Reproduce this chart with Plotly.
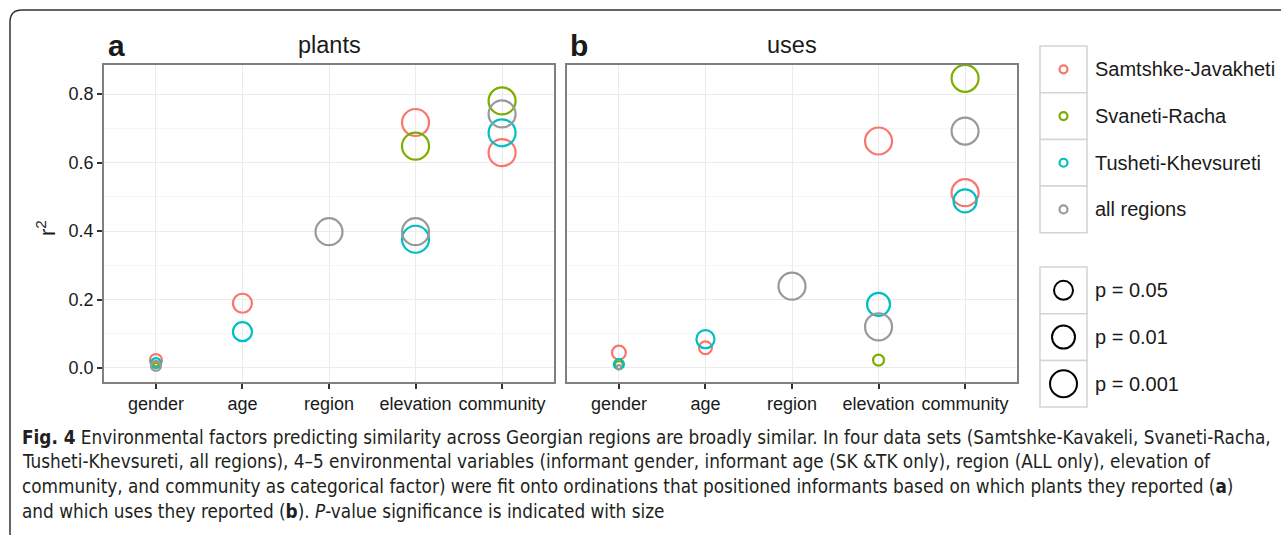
import numpy as np
import plotly.graph_objects as go

W, H = 1281, 535

categories = ["gender", "age", "region", "elevation", "community"]
regions = ["Samtshke-Javakheti", "Svaneti-Racha", "Tusheti-Khevsureti", "all regions"]
colors = ["#F8766D", "#7CAE00", "#00BFC4", "#999999"]

# r^2 values (None = not fitted) and p-values, panel a (plants)
plants_sj_r2 = [0.023, 0.189, None, 0.717, 0.629]
plants_sr_r2 = [0.008, None, None, 0.648, 0.780]
plants_tk_r2 = [0.014, 0.106, None, 0.376, 0.687]
plants_all_r2 = [0.006, None, 0.398, 0.398, 0.742]
plants_sj_p = [0.20, 0.05, None, 0.001, 0.001]
plants_sr_p = [0.82, None, None, 0.001, 0.001]
plants_tk_p = [0.30, 0.05, None, 0.001, 0.001]
plants_all_p = [0.30, None, 0.001, 0.001, 0.001]

# panel b (uses)
uses_sj_r2 = [0.045, 0.059, None, 0.663, 0.512]
uses_sr_r2 = [0.008, None, None, 0.023, 0.846]
uses_tk_r2 = [0.011, 0.084, None, 0.186, 0.488]
uses_all_r2 = [0.002, None, 0.239, 0.120, 0.692]
uses_sj_p = [0.14, 0.17, None, 0.001, 0.001]
uses_sr_p = [0.45, None, None, 0.25, 0.001]
uses_tk_p = [0.30, 0.06, None, 0.01, 0.01]
uses_all_p = [0.95, None, 0.001, 0.001, 0.001]

size_breaks = [0.05, 0.01, 0.001]
size_labels = ["p = 0.05", "p = 0.01", "p = 0.001"]


def msize(p):
    return float(np.interp(-np.log10(p), [0, 1.301, 2, 3], [4, 19, 23, 27]))


def X(px):
    return px / W


def Y(py):
    return 1 - py / H


fig = go.Figure()

panels = [
    ("x", "y", [plants_sj_r2, plants_sr_r2, plants_tk_r2, plants_all_r2],
     [plants_sj_p, plants_sr_p, plants_tk_p, plants_all_p]),
    ("x2", "y2", [uses_sj_r2, uses_sr_r2, uses_tk_r2, uses_all_r2],
     [uses_sj_p, uses_sr_p, uses_tk_p, uses_all_p]),
]
for xa, ya, r2s, ps in panels:
    for reg, col, r2, p in zip(regions, colors, r2s, ps):
        idx = [i for i, v in enumerate(r2) if v is not None]
        fig.add_trace(go.Scatter(
            x=[categories[i] for i in idx], y=[r2[i] for i in idx],
            mode="markers", name=reg, showlegend=False, xaxis=xa, yaxis=ya,
            marker=dict(symbol="circle-open", color=col, opacity=1,
                        size=[msize(p[i]) for i in idx],
                        line=dict(width=2.2, color=col)),
            hoverinfo="skip"))

txtfont = "Liberation Sans, Arial, sans-serif"
yr = [-0.041, 0.885]
common_x = dict(type="category", categoryorder="array", categoryarray=categories,
                range=[-0.6, 4.6], showgrid=True, gridcolor="#ebebeb", gridwidth=1.2,
                showline=True, mirror=True, linecolor="#808080", linewidth=1.5,
                ticks="outside", ticklen=5, tickwidth=1.5, tickcolor="#333",
                tickfont=dict(family=txtfont, size=18, color="#1a1a1a"),
                zeroline=False, fixedrange=True)
common_y = dict(range=yr, tickvals=[0, 0.2, 0.4, 0.6, 0.8], ticktext=["0.0", "0.2", "0.4", "0.6", "0.8"],
                showgrid=True, gridcolor="#ebebeb", gridwidth=1.2,
                minor=dict(tickvals=[0.1, 0.3, 0.5, 0.7], showgrid=True, gridcolor="#f5f5f5", gridwidth=1, ticks=""),
                showline=True, mirror=True, linecolor="#808080", linewidth=1.5,
                zeroline=False, fixedrange=True,
                tickfont=dict(family=txtfont, size=18, color="#1a1a1a"))

fig.update_layout(
    width=W, height=H, margin=dict(l=0, r=0, t=0, b=0),
    paper_bgcolor="white", plot_bgcolor="white", showlegend=False,
    xaxis=dict(common_x, domain=[X(104), X(554)], anchor="y"),
    yaxis=dict(common_y, domain=[Y(382), Y(65)], anchor="x",
               ticks="outside", ticklen=5, tickwidth=1.5, tickcolor="#333"),
    xaxis2=dict(common_x, domain=[X(567), X(1017)], anchor="y2"),
    yaxis2=dict(common_y, domain=[Y(382), Y(65)], anchor="x2", showticklabels=False, ticks=""),
)

shapes = []
ann = []

# outer frame (rounded top-left corner)
r = 12
path = (f"M {X(10)},{Y(600)} L {X(10)},{Y(10 + r)} "
        f"Q {X(10)},{Y(10)} {X(10 + r)},{Y(10)} L {X(1400)},{Y(10)}")
shapes.append(dict(type="path", xref="paper", yref="paper", path=path,
                   line=dict(color="#333", width=1.5)))

# panel titles and tags
ann.append(dict(x=X(329), y=Y(45), text="plants", showarrow=False, xref="paper", yref="paper",
                font=dict(family=txtfont, size=23.5, color="#1a1a1a"), xanchor="center", yanchor="middle"))
ann.append(dict(x=X(792), y=Y(45), text="uses", showarrow=False, xref="paper", yref="paper",
                font=dict(family=txtfont, size=23.5, color="#1a1a1a"), xanchor="center", yanchor="middle"))
ann.append(dict(x=X(106), y=Y(45), text="<b>a</b>", showarrow=False, xref="paper", yref="paper",
                font=dict(family=txtfont, size=30, color="#1a1a1a"), xanchor="left", yanchor="middle"))
ann.append(dict(x=X(568), y=Y(45), text="<b>b</b>", showarrow=False, xref="paper", yref="paper",
                font=dict(family=txtfont, size=30, color="#1a1a1a"), xanchor="left", yanchor="middle"))
# y axis title
ann.append(dict(x=X(46), y=Y(228), text="r<sup>2</sup>", showarrow=False, xref="paper", yref="paper",
                textangle=-90, font=dict(family=txtfont, size=22, color="#1a1a1a"),
                xanchor="center", yanchor="middle"))

# colour legend
key_x0, key_x1 = 1040, 1087
key_h = 46.7
top = 46
for i, (reg, col) in enumerate(zip(regions, colors)):
    y0 = top + i * key_h
    shapes.append(dict(type="rect", xref="paper", yref="paper", x0=X(key_x0), x1=X(key_x1),
                       y0=Y(y0), y1=Y(y0 + key_h), line=dict(color="#d4d4d4", width=1.5),
                       fillcolor="white", layer="below"))
    cx, cy = (key_x0 + key_x1) / 2, y0 + key_h / 2
    rr = 4
    shapes.append(dict(type="circle", xref="paper", yref="paper", x0=X(cx - rr), x1=X(cx + rr),
                       y0=Y(cy - rr), y1=Y(cy + rr), line=dict(color=col, width=2.2)))
    ann.append(dict(x=X(1093), y=Y(cy), text=reg, showarrow=False, xref="paper", yref="paper",
                    font=dict(family=txtfont, size=20, color="#1a1a1a"), xanchor="left", yanchor="middle"))

# size legend
top2 = 267
for i, (pb, lab) in enumerate(zip(size_breaks, size_labels)):
    y0 = top2 + i * key_h
    shapes.append(dict(type="rect", xref="paper", yref="paper", x0=X(key_x0), x1=X(key_x1),
                       y0=Y(y0), y1=Y(y0 + key_h), line=dict(color="#d4d4d4", width=1.5),
                       fillcolor="white", layer="below"))
    cx, cy = (key_x0 + key_x1) / 2, y0 + key_h / 2
    rr = msize(pb) / 2
    shapes.append(dict(type="circle", xref="paper", yref="paper", x0=X(cx - rr), x1=X(cx + rr),
                       y0=Y(cy - rr), y1=Y(cy + rr), line=dict(color="black", width=2)))
    ann.append(dict(x=X(1093), y=Y(cy), text=lab, showarrow=False, xref="paper", yref="paper",
                    font=dict(family=txtfont, size=20, color="#1a1a1a"), xanchor="left", yanchor="middle"))

# caption
cap_font = "Liberation Sans Narrow, DejaVu Sans Condensed, Arial Narrow, sans-serif"
caption = [
    "<b>Fig. 4</b> Environmental factors predicting similarity across Georgian regions are broadly similar. "
    "In four data sets (Samtshke-Kavakeli, Svaneti-Racha,",
    "Tusheti-Khevsureti, all regions), 4–5 environmental variables (informant gender, informant age (SK &TK only), "
    "region (ALL only), elevation of",
    "community, and community as categorical factor) were fit onto ordinations that positioned informants based on "
    "which plants they reported (<b>a</b>)",
    "and which uses they reported (<b>b</b>). <i>P</i>-value significance is indicated with size",
]
for i, line in enumerate(caption):
    ann.append(dict(x=X(20), y=Y(437 + i * 24.7), text=line, showarrow=False, xref="paper", yref="paper",
                    font=dict(family=cap_font, size=18.8, color="#231f20"), xanchor="left", yanchor="middle"))

fig.update_layout(shapes=shapes, annotations=ann)
fig.write_html("out.html", config={"displayModeBar": False},
               post_script="document.body.style.margin='0';document.body.style.overflow='hidden';")
